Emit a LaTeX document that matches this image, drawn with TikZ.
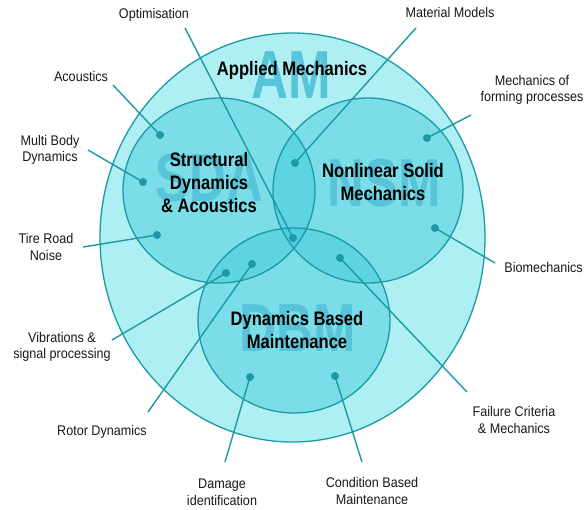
\documentclass[tikz,border=0pt]{standalone}
\usepackage{fontspec}
\setmainfont{Liberation Sans}[FakeStretch=0.9]
\newfontfamily\headfont{Liberation Sans}[FakeStretch=0.85]
\newfontfamily\ghostfont{Liberation Sans}[FakeStretch=0.75]
\usepackage{tikz}
\definecolor{ring}{HTML}{1B9AA6}
\definecolor{outerfill}{HTML}{AEEFF3}
\definecolor{innerfill}{HTML}{3CC8DA}
\definecolor{ghost}{HTML}{58C4D9}

\begin{document}
\begin{tikzpicture}[x=1pt,y=-1pt,
    lbl/.style={align=center,inner sep=0pt,text=black!90,font=\fontsize{14}{16.5}\selectfont},
    head/.style={align=center,inner sep=0pt,font=\headfont\bfseries\fontsize{19.5}{23}\selectfont},
    ghosttext/.style={inner sep=0pt,text=ghost,font=\ghostfont\bfseries\fontsize{68}{68}\selectfont},
    dot/.style={circle,fill=ring,inner sep=0pt,minimum size=8pt},
    lead/.style={ring,line width=1.4pt},
    rim/.style={ring,line width=1.3pt}]
    \useasboundingbox (0,0) rectangle (584,509);
    \fill[white] (0,0) rectangle (584,509);

    \fill[outerfill] (292.5,237.5) ellipse [x radius=192.5,y radius=204.5];
    \node[ghosttext] (am-g) at (291,75) {AM};
    \fill[innerfill,fill opacity=0.45] (219,190.5) ellipse [x radius=96,y radius=92.5];
    \fill[innerfill,fill opacity=0.45] (368,190.5) ellipse [x radius=95,y radius=92.5];
    \fill[innerfill,fill opacity=0.45] (294,320.5) ellipse [x radius=96,y radius=92.5];
    \node[ghosttext] (sda-g) at (209,178) {SDA};
    \node[ghosttext] (nsm-g) at (384,183) {NSM};
    \node[ghosttext] (dbm-g) at (298,328) {DBM};
    \draw[rim] (292.5,237.5) ellipse [x radius=192.5,y radius=204.5];
    \draw[rim] (219,190.5) ellipse [x radius=96,y radius=92.5];
    \draw[rim] (368,190.5) ellipse [x radius=95,y radius=92.5];
    \draw[rim] (294,320.5) ellipse [x radius=96,y radius=92.5];

    \node[head] (am) at (292,70) {Applied Mechanics};
    \node[head] (sda) at (209,183) {Structural\\Dynamics\\\& Acoustics};
    \node[head] (nsm) at (383,182) {Nonlinear Solid\\Mechanics};
    \node[head] (dbm) at (297,330) {Dynamics Based\\Maintenance};

    \node[lbl] (opt) at (154,15) {Optimisation};
    \node[lbl] (mat) at (450,12) {Material Models};
    \node[lbl] (acou) at (81,76) {Acoustics};
    \node[lbl] (mbd) at (50,150) {Multi Body\\Dynamics};
    \node[lbl] (trn) at (46,247) {Tire Road\\Noise};
    \node[lbl] (vsp) at (62,347) {Vibrations \&\\signal processing};
    \node[lbl] (rot) at (102,432) {Rotor Dynamics};
    \node[lbl] (dam) at (222,492) {Damage\\identification};
    \node[lbl] (cbm) at (372,491) {Condition Based\\Maintenance};
    \node[lbl] (fcm) at (514,420) {Failure Criteria\\\& Mechanics};
    \node[lbl,anchor=east] (bio) at (583,267) {Biomechanics};
    \node[lbl] (mfp) at (532,90) {Mechanics of\\forming processes};

    \coordinate (opt-e) at (185,28);
    \coordinate (mat-e) at (416,28);
    \coordinate (acou-e) at (113,85);
    \coordinate (mbd-e) at (88,150);
    \coordinate (trn-e) at (83,247);
    \coordinate (vsp-e) at (112,340);
    \coordinate (rot-e) at (148,412);
    \coordinate (dam-e) at (225,462);
    \coordinate (cbm-e) at (362,462);
    \coordinate (fcm-e) at (467,392);
    \coordinate (bio-e) at (495,263);
    \coordinate (mfp-e) at (471,115);

    \node[dot] (opt-d) at (293,238) {};
    \node[dot] (mat-d) at (295,163) {};
    \node[dot] (acou-d) at (160,135) {};
    \node[dot] (mbd-d) at (143,182) {};
    \node[dot] (trn-d) at (157,235) {};
    \node[dot] (vsp-d) at (226,273) {};
    \node[dot] (rot-d) at (252,264) {};
    \node[dot] (dam-d) at (250,377) {};
    \node[dot] (cbm-d) at (335,376) {};
    \node[dot] (fcm-d) at (340,258) {};
    \node[dot] (bio-d) at (435,228) {};
    \node[dot] (mfp-d) at (427,138) {};

    \foreach \k in {opt,mat,acou,mbd,trn,vsp,rot,dam,cbm,fcm,bio,mfp}
        \draw[lead] (\k-e) -- (\k-d.center);
\end{tikzpicture}
\end{document}
